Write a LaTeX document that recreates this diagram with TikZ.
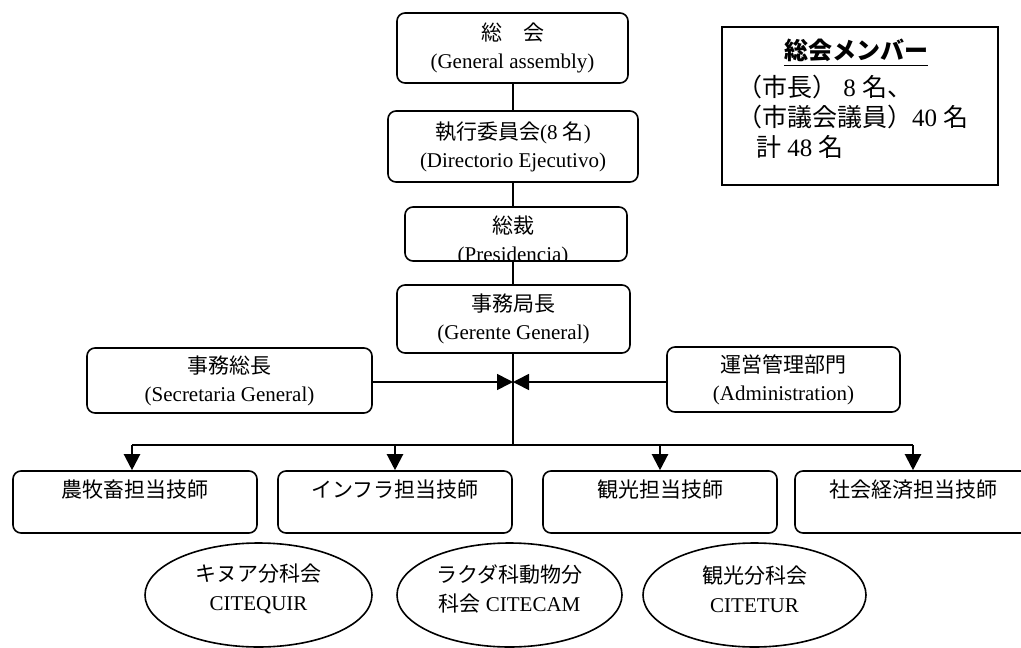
\documentclass[tikz,border=0pt]{standalone}
\usepackage{fontspec}
\setmainfont{Liberation Serif}
\newfontfamily\jp{Noto Sans CJK JP}
\usetikzlibrary{arrows.meta,shapes.geometric}

\tikzset{
  orgbox/.style={draw, rounded corners=8pt, line width=1.6pt, inner sep=0pt,
    align=center, font=\fontsize{21}{28}\selectfont},
  unitbox/.style={orgbox, minimum height=62pt},
  unitlabel/.style={inner sep=0pt, anchor=north, font=\fontsize{21}{28}\selectfont\jp},
  subcom/.style={draw, ellipse, line width=1.6pt, inner sep=0pt},
  subtext/.style={inner sep=0pt, align=center, font=\fontsize{21}{29}\selectfont},
  link/.style={line width=1.6pt},
  bus/.style={line width=2.2pt},
  tip/.style={-{Triangle[length=16pt,width=16pt]}},
  memtext/.style={inner sep=0pt, anchor=west, font=\fontsize{25}{30}\selectfont},
}

\begin{document}
\begin{tikzpicture}[x=1pt, y=-1pt]
\useasboundingbox (0,0) rectangle (1021,648);

% main chain
\node[orgbox, minimum width=231pt, minimum height=70pt] (ga) at (512.5,48)
  {{\jp 総\hspace{1em}会}\\(General assembly)};
\node[orgbox, minimum width=250pt, minimum height=71pt] (ex) at (513,146.5)
  {{\jp 執行委員会}(8 {\jp 名})\\(Directorio Ejecutivo)};
\node[orgbox, minimum width=222pt, minimum height=54pt] (pr) at (516,234) {};
\begin{scope}
  % the second line runs into the lower border and is cut there
  \clip ([xshift=1pt,yshift=2pt]pr.south west) rectangle ([xshift=-1pt,yshift=-1pt]pr.north east);
  \node[orgbox, draw=none] (prt) at (513,241) {{\jp 総裁}\\(Presidencia)};
\end{scope}
\node[orgbox, minimum width=233pt, minimum height=68pt] (gg) at (513.5,319)
  {{\jp 事務局長}\\(Gerente General)};

\draw[link] (ga.south -| 513,0) -- (ex.north -| 513,0);
\draw[link] (ex.south -| 513,0) -- (pr.north -| 513,0);
\draw[link] (pr.south -| 513,0) -- (gg.north -| 513,0);

% staff units
\node[orgbox, minimum width=285pt, minimum height=65pt] (sg) at (229.5,380.5)
  {{\jp 事務総長}\\(Secretaria General)};
\node[orgbox, minimum width=233pt, minimum height=65pt] (ad) at (783.5,379.5)
  {{\jp 運営管理部門}\\(Administration)};
\coordinate (meet) at (513,382);
\draw[link, tip] (sg.east |- meet) -- (meet);
\draw[link, tip] (ad.west |- meet) -- (meet);

% distribution bus
\coordinate (hub) at (513,445);
\coordinate (d1) at (132,445);
\coordinate (d2) at (395,445);
\coordinate (d3) at (660,445);
\coordinate (d4) at (913,445);
\draw[link] (gg.south -| hub) -- (hub);
\draw[bus] (d1) -- (d4);

% technical units
\node[unitbox, minimum width=244pt] (u1) at (135,502) {};
\node[unitbox, minimum width=234pt] (u2) at (395,502) {};
\node[unitbox, minimum width=234pt] (u3) at (660,502) {};
\node[unitbox, minimum width=235pt] (u4) at (912.5,502) {};
\node[unitlabel] (u1t) at ([yshift=-9pt]u1.north) {農牧畜担当技師};
\node[unitlabel] (u2t) at ([yshift=-9pt]u2.north) {インフラ担当技師};
\node[unitlabel] (u3t) at ([yshift=-9pt]u3.north) {観光担当技師};
\node[unitlabel] (u4t) at ([yshift=-9pt]u4.north -| d4) {社会経済担当技師};

\draw[bus, tip] (d1) -- (u1.north -| d1);
\draw[bus, tip] (d2) -- (u2.north -| d2);
\draw[bus, tip] (d3) -- (u3.north -| d3);
\draw[bus, tip] (d4) -- (u4.north -| d4);

% sub-committees
\node[subcom, minimum width=227pt, minimum height=104pt] (e1) at (258.5,595) {};
\node[subcom, minimum width=225pt, minimum height=104pt] (e2) at (509.5,595) {};
\node[subcom, minimum width=223pt, minimum height=104pt] (e3) at (754.5,595) {};
\node[subtext] (e1t) at ([yshift=6pt]e1.center) {{\jp キヌア分科会}\\CITEQUIR};
\node[subtext] (e2t) at ([yshift=6pt]e2.center) {{\jp ラクダ科動物分}\\{\jp 科会} CITECAM};
\node[subtext] (e3t) at ([yshift=6pt]e3.center) {{\jp 観光分科会}\\CITETUR};

% membership note
\node[draw, line width=1.5pt, minimum width=276pt, minimum height=158pt, inner sep=0pt]
  (mem) at (860,106) {};
\node[inner sep=0pt, font=\fontsize{24}{30}\selectfont\jp\bfseries] (memh) at (856,50) {総会メンバー};
\draw[line width=1.6pt] ([yshift=-4pt]memh.south west) -- ([yshift=-4pt]memh.south east);
\node[memtext] (m1) at (737,87) {{\jp （市長）} 8 {\jp 名、}};
\node[memtext] (m2) at (737,117) {{\jp （市議会議員）}40 {\jp 名}};
\node[memtext] (m3) at (756,147) {{\jp 計} 48 {\jp 名}};
\end{tikzpicture}
\end{document}
